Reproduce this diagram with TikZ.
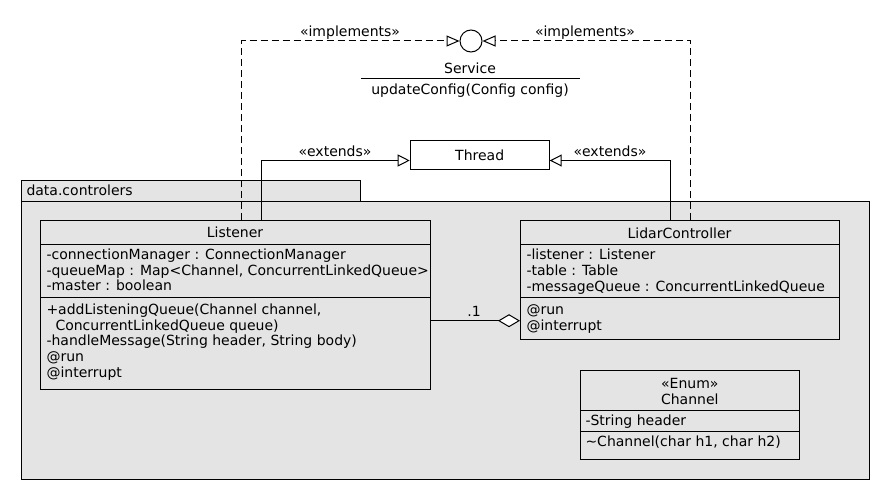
\documentclass[tikz,border=0pt]{standalone}
\usepackage{fontspec}
\setmainfont{DejaVu Sans}
\usetikzlibrary{arrows.meta}
\definecolor{pkggray}{HTML}{E4E4E4}
\begin{document}
\begin{tikzpicture}[x=1pt,y=-1pt,line width=1pt,
  every node/.style={font=\fontsize{14}{16}\selectfont},
  box/.style={draw,fill=pkggray,inner sep=0pt,anchor=north west},
  txt/.style={inner sep=0pt,text height=10.2pt,text depth=0pt,anchor=west},
  ctr/.style={inner sep=0pt,text height=10.2pt,text depth=0pt},
  impl/.style={dash pattern=on 7pt off 4pt,-{Triangle[open,length=13pt,width=11pt]}},
  ext/.style={-{Triangle[open,length=12pt,width=12pt]}},
  agg/.style={-{Diamond[fill=white,length=22pt,width=13pt]}}]
\fill[white] (0,0) rectangle (890,500);
\useasboundingbox (0,0) rectangle (890,500);

% package
\node[box,minimum width=339pt,minimum height=21pt] (tab) at (21,180) {};
\node[box,minimum width=848pt,minimum height=278pt] (pkg) at (21,201) {};
\node[txt] (pkgname) at (26,190.7) {data.controlers};

% interface Service
\node[draw,fill=white,circle,minimum size=22pt,inner sep=0pt] (service) at (471,41) {};
\node[ctr] (svcname) at (470,68) {Service};
\coordinate (svcl) at (361,79);
\coordinate (svcr) at (580,79);
\draw (svcl) -- (svcr);
\node[ctr] (svcop) at (470,89.5) {updateConfig(Config config)};

% Thread
\node[draw,fill=white,minimum width=139pt,minimum height=29pt,inner sep=0pt] (thread) at (479.7,154.8) {Thread};

% classes
\node[box,minimum width=390pt,minimum height=169pt] (listener) at (40,220) {};
\node[box,minimum width=319pt,minimum height=119pt] (lidar) at (520,220) {};
\node[box,minimum width=219pt,minimum height=89pt] (channel) at (580,370) {};

% connectors
\draw[impl] ([xshift=6pt]listener.north) |- (service.west);
\draw[impl] ([xshift=10.5pt]lidar.north) |- (service.east);
\node[ctr] (impl1) at (350,31.7) {«implements»};
\node[ctr] (impl2) at (585,31.7) {«implements»};

\draw[ext] ([xshift=26pt]listener.north) |- ([yshift=-5.7pt]thread.west);
\draw[ext] ([xshift=-9.5pt]lidar.north) |- ([yshift=-5.7pt]thread.east);
\node[ctr] (ext1) at (335,151.7) {«extends»};
\node[ctr] (ext2) at (610,151.7) {«extends»};

\coordinate (aggy) at (0,320.7);
\draw[agg] (listener.east |- aggy) -- (lidar.west |- aggy);
\node[ctr] (mult) at (474,311.7) {.1};

% Listener content
\draw (listener.west |- 0,244) -- (listener.east |- 0,244);
\draw (listener.west |- 0,297.5) -- (listener.east |- 0,297.5);
\node[ctr] (lname) at (235,232) {Listener};
\node[txt] (la1) at (46,254.3) {-connectionManager : ConnectionManager};
\node[txt] (la2) at (46,270) {-queueMap : Map<Channel, ConcurrentLinkedQueue>};
\node[txt] (la3) at (46,285.7) {-master : boolean};
\node[txt] (lm1) at (46,309.3) {+addListeningQueue(Channel channel,};
\node[txt] (lm2) at (55,325) {ConcurrentLinkedQueue queue)};
\node[txt] (lm3) at (46,340.7) {-handleMessage(String header, String body)};
\node[txt] (lm4) at (46,356.7) {@run};
\node[txt] (lm5) at (46,372) {@interrupt};

% LidarController content
\draw (lidar.west |- 0,244) -- (lidar.east |- 0,244);
\draw (lidar.west |- 0,297.5) -- (lidar.east |- 0,297.5);
\node[ctr] (cname) at (679.5,233.3) {LidarController};
\node[txt] (ca1) at (526,254.3) {-listener : Listener};
\node[txt] (ca2) at (526,270) {-table : Table};
\node[txt] (ca3) at (526,286) {-messageQueue : ConcurrentLinkedQueue};
\node[txt] (cm1) at (526,309.3) {@run};
\node[txt] (cm2) at (526,325) {@interrupt};

% Channel content
\draw (channel.west |- 0,410.7) -- (channel.east |- 0,410.7);
\draw (channel.west |- 0,431) -- (channel.east |- 0,431);
\node[ctr] (enumst) at (689.8,383.3) {«Enum»};
\node[ctr] (chname) at (689.8,399.3) {Channel};
\node[txt] (cha1) at (585,420.7) {-String header};
\node[txt] (chm1) at (585,441) {\textasciitilde Channel(char h1, char h2)};
\end{tikzpicture}
\end{document}
